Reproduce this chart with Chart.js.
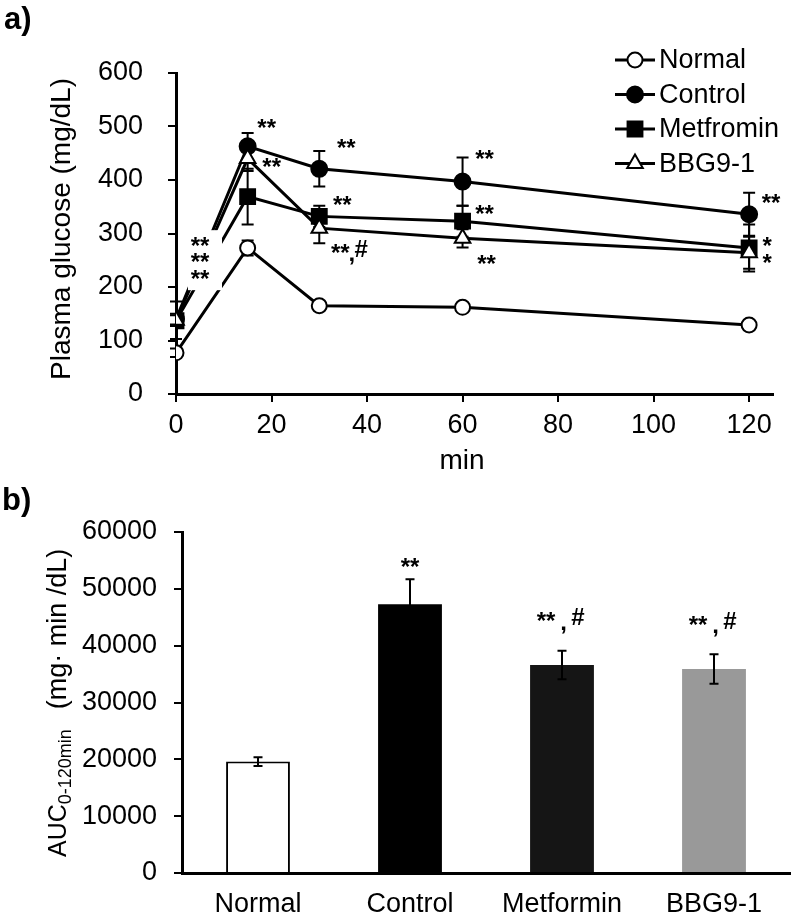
<!DOCTYPE html>
<html><head><meta charset="utf-8">
<script src="https://cdn.jsdelivr.net/npm/chart.js@4/dist/chart.umd.min.js"></script>
<style>
html,body{margin:0;padding:0;background:#fff;}
#wrap{width:793px;height:917px;position:relative;overflow:hidden;}
canvas{display:block;}
</style></head><body>
<div id="wrap">
<canvas id="c1" width="793" height="470"></canvas>
<canvas id="c2" width="793" height="447"></canvas>
</div>
<script>
// ---------------- DATA ----------------
const timePoints = [0, 15, 30, 60, 120];
const seriesNames = ['Normal', 'Control', 'Metfromin', 'BBG9-1'];
const normalMean = [77, 273, 165, 162, 129];
const normalSE   = [8, 14, 8, 6, 6];
const controlMean = [140, 463, 421, 397, 336];
const controlSE   = [10, 25, 33, 45, 40];
const metforminMean = [137, 369, 332, 323, 273];
const metforminSE   = [10, 52, 20, 29, 44];
const bbgMean = [138, 440, 310, 291, 264];
const bbgSE   = [35, 23, 28, 17, 30];
const glucoseTicks = [0, 100, 200, 300, 400, 500, 600];
const minuteTicks = [0, 20, 40, 60, 80, 100, 120];

const aucGroups = ['Normal', 'Control', 'Metformin', 'BBG9-1'];
const aucMean = [19600, 47300, 36600, 35900];
const aucSE   = [760, 4400, 2500, 2600];
const aucTicks = [0, 10000, 20000, 30000, 40000, 50000, 60000];

// significance marks: [series index, time index, text]
const glucoseMarks = [
  [1, 1, '**'], [3, 1, '**'], [1, 2, '**'], [2, 2, '**'], [3, 2, '**,#'],
  [1, 3, '**'], [2, 3, '**'], [3, 3, '**'], [1, 4, '**'], [2, 4, '*'], [3, 4, '*']
];
const glucoseStackMarks = ['**', '**', '**'];
const aucMarks = ['', '**', '**,#', '**,#'];

// ---------------- STYLE ----------------
const FONT = '"Liberation Sans", Arial, Helvetica, sans-serif';
const FS = 27;
Chart.defaults.font.family = FONT;
Chart.defaults.color = '#000';

function centeredText(ctx, txt, cx, cy) {
  const m = ctx.measureText(txt);
  const a = m.actualBoundingBoxAscent, d = m.actualBoundingBoxDescent;
  ctx.textAlign = 'center';
  ctx.textBaseline = 'alphabetic';
  ctx.fillText(txt, cx, cy + (a - d) / 2);
}
// draws '**', '*', '**,#'
function drawMark(ctx, txt, cx, cy, gap) {
  ctx.font = 'bold 24px ' + FONT;
  ctx.fillStyle = '#000';
  if (txt.indexOf(',') >= 0) {
    const parts = txt.split(',');
    centeredText(ctx, parts[0], cx, cy);
    centeredText(ctx, ',', cx + gap * 0.55, cy + 13);
    centeredText(ctx, parts[1], cx + gap, cy);
  } else {
    centeredText(ctx, txt, cx, cy);
  }
}

// ---------------- TOP CHART ----------------
const means = [normalMean, controlMean, metforminMean, bbgMean];
const ses = [normalSE, controlSE, metforminSE, bbgSE];
const styles = [
  {ps: 'circle', fill: '#fff', r: 7.5},
  {ps: 'circle', fill: '#000', r: 8},
  {ps: 'rect', fill: '#000', r: 10.5},
  {ps: 'triangle', fill: '#fff', r: 9}
];
const datasets1 = seriesNames.map((name, k) => ({
  label: name,
  data: timePoints.map((t, i) => ({x: t, y: means[k][i]})),
  borderColor: '#000', borderWidth: 3,
  pointStyle: styles[k].ps, pointRadius: styles[k].r, pointHoverRadius: styles[k].r,
  pointBackgroundColor: styles[k].fill, pointBorderColor: '#000', pointBorderWidth: 2,
  tension: 0, fill: false, order: 4 - k
}));

const markOffsets = {
  '1,1': [19, -23], '3,1': [24, 4], '1,2': [27, -25], '2,2': [23, -16], '3,2': [21, 20],
  '1,3': [22, -27], '2,3': [22, -12], '3,3': [24, 21], '1,4': [22, -16], '2,4': [18, -6], '3,4': [18, 6]
};

const topPlugin = {
  id: 'topExtras',
  beforeDatasetsDraw(chart) {
    const ctx = chart.ctx, xs = chart.scales.x, ys = chart.scales.y;
    ctx.save();
    ctx.strokeStyle = '#000'; ctx.lineWidth = 2;
    means.forEach((arr, k) => {
      arr.forEach((v, i) => {
        const x = xs.getPixelForValue(timePoints[i]);
        const y1 = ys.getPixelForValue(v + ses[k][i]);
        const y2 = ys.getPixelForValue(v - ses[k][i]);
        ctx.beginPath();
        ctx.moveTo(x, y1); ctx.lineTo(x, y2);
        ctx.moveTo(x - 6, y1); ctx.lineTo(x + 6, y1);
        ctx.moveTo(x - 6, y2); ctx.lineTo(x + 6, y2);
        ctx.stroke();
      });
    });
    ctx.restore();
  },
  afterDatasetsDraw(chart) {
    const ctx = chart.ctx, xs = chart.scales.x, ys = chart.scales.y;
    ctx.save();
    const bx = xs.getPixelForValue(timePoints[0]);
    const by = ys.getPixelForValue(bbgMean[0]);
    ctx.fillStyle = '#fff';
    ctx.fillRect(bx + 12, by - 90, 34, 60);
    glucoseStackMarks.forEach((t, j) => drawMark(ctx, t, bx + 24, by - 79 + j * 16.5, 0));
    glucoseMarks.forEach(([k, i, t]) => {
      const x = xs.getPixelForValue(timePoints[i]);
      const y = ys.getPixelForValue(means[k][i]);
      const o = markOffsets[k + ',' + i];
      drawMark(ctx, t, x + o[0], y + o[1], 21);
    });
    ctx.restore();
  },
  afterDraw(chart) {
    const ctx = chart.ctx;
    ctx.save();
    const ly = [60, 94.5, 129, 163.5];
    chart.data.datasets.forEach((ds, k) => {
      const y = ly[k];
      ctx.strokeStyle = '#000'; ctx.lineWidth = 3;
      ctx.beginPath(); ctx.moveTo(615, y); ctx.lineTo(655, y); ctx.stroke();
      ctx.fillStyle = ds.pointBackgroundColor; ctx.strokeStyle = '#000'; ctx.lineWidth = 2;
      Chart.helpers.drawPoint(ctx, {pointStyle: ds.pointStyle, radius: ds.pointRadius, borderWidth: 2, rotation: 0}, 635, y);
      ctx.fillStyle = '#000';
      ctx.font = FS + 'px ' + FONT;
      ctx.textAlign = 'left'; ctx.textBaseline = 'middle';
      ctx.fillText(ds.label, 659, y + 1);
    });
    ctx.fillStyle = '#000';
    ctx.font = '28px ' + FONT;
    ctx.textAlign = 'center'; ctx.textBaseline = 'middle';
    ctx.fillText('min', 462, 461);
    ctx.save();
    ctx.translate(62, 229); ctx.rotate(-Math.PI / 2);
    ctx.fillText('Plasma glucose (mg/dL)', 0, 0);
    ctx.restore();
    ctx.font = 'bold 31px ' + FONT;
    ctx.textAlign = 'left'; ctx.textBaseline = 'alphabetic';
    ctx.fillText('a)', 4, 29);
    ctx.restore();
  }
};

new Chart(document.getElementById('c1'), {
  type: 'line',
  data: {datasets: datasets1},
  options: {
    responsive: false, animation: false, devicePixelRatio: 1,
    layout: {padding: {top: 73, right: 20, bottom: 0, left: 0}},
    plugins: {legend: {display: false}, tooltip: {enabled: false}},
    scales: {
      x: {
        type: 'linear', min: 0, max: 125,
        afterBuildTicks: s => { s.ticks = minuteTicks.map(v => ({value: v})); },
        afterFit: s => { s.height = 76; },
        ticks: {font: {size: FS, family: FONT}, color: '#000', padding: 7, maxRotation: 0, callback: v => String(v)},
        grid: {drawOnChartArea: false, tickLength: 8, color: '#000', lineWidth: 2},
        border: {color: '#000', width: 3}
      },
      y: {
        min: 0, max: 600,
        afterBuildTicks: s => { s.ticks = glucoseTicks.map(v => ({value: v})); },
        afterFit: s => { s.width = 176; },
        ticks: {font: {size: FS, family: FONT}, color: '#000', padding: 25, callback: v => String(v)},
        grid: {drawOnChartArea: false, tickLength: 8, color: '#000', lineWidth: 2},
        border: {color: '#000', width: 3}
      }
    }
  },
  plugins: [topPlugin]
});

// ---------------- BOTTOM CHART ----------------
const bottomPlugin = {
  id: 'bottomExtras',
  afterDatasetsDraw(chart) {
    const ctx = chart.ctx, ys = chart.scales.y;
    const meta = chart.getDatasetMeta(0);
    ctx.save();
    ctx.strokeStyle = '#000'; ctx.lineWidth = 2;
    aucMean.forEach((v, i) => {
      const x = meta.data[i].x;
      const y1 = ys.getPixelForValue(v + aucSE[i]);
      const y2 = ys.getPixelForValue(v - aucSE[i]);
      ctx.beginPath();
      ctx.moveTo(x, y1); ctx.lineTo(x, y2);
      ctx.moveTo(x - 4.5, y1); ctx.lineTo(x + 4.5, y1);
      ctx.moveTo(x - 4.5, y2); ctx.lineTo(x + 4.5, y2);
      ctx.stroke();
      const t = aucMarks[i];
      if (t) {
        if (t.indexOf(',') >= 0) drawMark(ctx, t, x - 16, y1 - 34, 32);
        else drawMark(ctx, t, x, y1 - 17, 0);
      }
    });
    ctx.restore();
  },
  afterDraw(chart) {
    const ctx = chart.ctx;
    ctx.save();
    ctx.fillStyle = '#000';
    ctx.font = 'bold 31px ' + FONT;
    ctx.textAlign = 'left'; ctx.textBaseline = 'alphabetic';
    ctx.fillText('b)', 2, 40);
    ctx.translate(66, 387); ctx.rotate(-Math.PI / 2);
    ctx.textBaseline = 'alphabetic'; ctx.textAlign = 'left';
    ctx.font = '25px ' + FONT;
    ctx.fillText('AUC', 0, 0);
    let w = ctx.measureText('AUC').width;
    ctx.font = '18px ' + FONT;
    ctx.fillText('0-120min', w, 5);
    w += ctx.measureText('0-120min').width + 20;
    ctx.font = '27px ' + FONT;
    ctx.fillText('(mg\u00B7 min /dL)', w, 0);
    ctx.restore();
  }
};

new Chart(document.getElementById('c2'), {
  type: 'bar',
  data: {
    labels: aucGroups,
    datasets: [{
      data: aucMean,
      backgroundColor: ['#ffffff', '#000000', '#151515', '#999999'],
      borderColor: ['#000000', '#000000', '#151515', '#999999'],
      borderWidth: [2, 0, 0, 0],
      barPercentage: 0.42, categoryPercentage: 1
    }]
  },
  options: {
    responsive: false, animation: false, devicePixelRatio: 1,
    layout: {padding: {top: 62, right: 3, bottom: 0, left: 0}},
    plugins: {legend: {display: false}, tooltip: {enabled: false}},
    scales: {
      x: {
        afterFit: s => { s.height = 44; },
        ticks: {font: {size: FS, family: FONT}, color: '#000', padding: 15},
        grid: {display: false, drawTicks: false},
        border: {color: '#000', width: 3}
      },
      y: {
        min: 0, max: 60000,
        afterBuildTicks: s => { s.ticks = aucTicks.map(v => ({value: v})); },
        afterFit: s => { s.width = 182; },
        ticks: {font: {size: FS, family: FONT}, color: '#000', padding: 17, callback: v => String(v)},
        grid: {drawOnChartArea: false, tickLength: 8, color: '#000', lineWidth: 2},
        border: {color: '#000', width: 3}
      }
    }
  },
  plugins: [bottomPlugin]
});
</script>
</body></html>
